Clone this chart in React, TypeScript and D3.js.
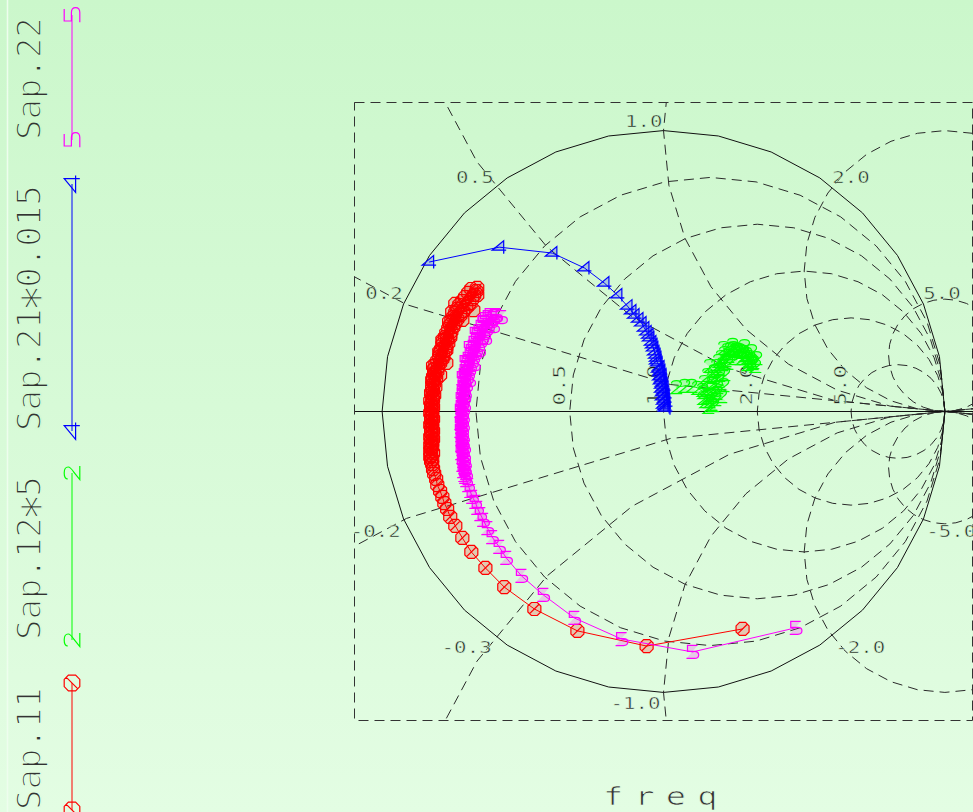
import React from "react";
import * as d3 from "d3";

const W = 973;
const H = 812;

type P = [number, number];

// S11 (red, slashed-zero markers) — reflection coefficient (re, im)
const s11: P[] = [
  [0.281,-0.774],[-0.060,-0.835],[-0.306,-0.781],[-0.459,-0.703],[-0.566,-0.625],[-0.633,-0.557],[-0.683,-0.500],
  [-0.715,-0.450],[-0.740,-0.407],[-0.758,-0.375],[-0.769,-0.347],[-0.779,-0.326],[-0.786,-0.304],[-0.794,-0.283],
  [-0.804,-0.262],[-0.808,-0.240],[-0.815,-0.222],[-0.819,-0.205],[-0.822,-0.187],
  [-0.826,-0.176],[-0.822,-0.169],[-0.829,-0.162],[-0.826,-0.155],[-0.819,-0.148],[-0.829,-0.141],[-0.826,-0.133],
  [-0.822,-0.126],[-0.829,-0.119],[-0.822,-0.112],[-0.826,-0.105],[-0.819,-0.098],[-0.829,-0.091],[-0.822,-0.084],
  [-0.826,-0.077],[-0.819,-0.069],[-0.826,-0.062],[-0.822,-0.055],[-0.829,-0.048],[-0.822,-0.041],[-0.826,-0.034],
  [-0.819,-0.027],[-0.826,-0.020],[-0.822,-0.012],[-0.829,-0.005],[-0.822,0.002],[-0.826,0.009],[-0.819,0.016],
  [-0.826,0.023],[-0.822,0.030],[-0.829,0.037],[-0.819,0.044],[-0.822,0.052],[-0.815,0.059],[-0.826,0.066],
  [-0.819,0.073],[-0.822,0.080],[-0.811,0.087],[-0.822,0.094],[-0.815,0.101],[-0.819,0.109],[-0.808,0.116],
  [-0.819,0.123],[-0.811,0.130],[-0.815,0.137],[-0.804,0.144],[-0.815,0.151],[-0.801,0.158],[-0.811,0.165],
  [-0.794,0.173],[-0.804,0.180],[-0.786,0.187],[-0.797,0.194],[-0.783,0.201],[-0.794,0.208],[-0.776,0.215],
  [-0.790,0.222],[-0.772,0.230],[-0.786,0.237],[-0.765,0.244],[-0.783,0.251],[-0.769,0.258],[-0.776,0.265],
  [-0.758,0.272],[-0.772,0.279],[-0.754,0.286],[-0.765,0.294],[-0.747,0.301],[-0.758,0.308],[-0.740,0.315],
  [-0.754,0.322],[-0.733,0.329],[-0.747,0.336],[-0.722,0.343],[-0.740,0.351],[-0.712,0.357],[-0.733,0.365],
  [-0.701,0.372],[-0.726,0.379],[-0.690,0.386],[-0.715,0.393],[-0.680,0.400],[-0.705,0.407],[-0.673,0.415],
  [-0.694,0.422],[-0.665,0.429],[-0.683,0.436],[-0.662,0.440],
  [-0.662,0.415],[-0.740,0.383],[-0.676,0.361],[-0.751,0.354],[-0.715,0.326],[-0.762,0.319],[-0.758,0.265],
  [-0.786,0.254],[-0.772,0.219],[-0.797,0.212],[-0.772,0.173],[-0.819,0.162],[-0.794,0.130],[-0.822,0.112],
];

// S12 * 5 (green, "2" markers)
const s12x5: P[] = [
  [0.046,0.087],[0.075,0.091],[0.100,0.091],[0.121,0.084],[0.142,0.069],[0.157,0.052],[0.149,0.037],[0.171,0.027],
  [0.160,0.016],[0.178,0.023],[0.164,0.037],[0.185,0.044],[0.167,0.059],[0.189,0.066],[0.171,0.080],[0.192,0.087],
  [0.174,0.101],[0.196,0.109],[0.178,0.123],[0.199,0.130],[0.181,0.144],[0.203,0.151],[0.189,0.162],[0.210,0.169],
  [0.196,0.180],[0.221,0.183],[0.206,0.194],[0.231,0.198],[0.217,0.208],[0.242,0.208],[0.228,0.219],[0.253,0.215],
  [0.238,0.222],[0.263,0.219],[0.249,0.226],[0.274,0.215],[0.260,0.222],[0.285,0.212],[0.270,0.219],[0.295,0.205],
  [0.281,0.212],[0.306,0.194],[0.288,0.201],[0.313,0.183],[0.295,0.190],[0.317,0.173],[0.302,0.180],[0.320,0.176],
  [0.331,0.190],[0.327,0.162],[0.313,0.215],[0.299,0.169],[0.288,0.233],[0.278,0.190],[0.246,0.237],[0.253,0.190],
  [0.214,0.226],[0.228,0.173],[0.164,0.162],[0.157,0.130],[0.217,0.133],[0.146,0.105],[0.214,0.094],[0.139,0.077],
  [0.206,0.055],[0.142,0.048],
];

// S21 * 0.015 (blue, "4" markers)
const s21x0015: P[] = [
  [-0.833,0.532],[-0.584,0.585],[-0.395,0.564],[-0.281,0.511],[-0.210,0.457],[-0.164,0.415],[-0.128,0.375],
  [-0.114,0.358],[-0.103,0.343],[-0.089,0.329],[-0.078,0.315],[-0.068,0.297],[-0.060,0.283],[-0.053,0.272],
  [-0.050,0.262],[-0.043,0.247],[-0.039,0.237],[-0.036,0.226],[-0.032,0.212],[-0.028,0.201],[-0.025,0.190],
  [-0.025,0.180],[-0.021,0.173],[-0.014,0.158],[-0.018,0.151],[-0.011,0.144],[-0.014,0.137],[-0.007,0.130],
  [-0.014,0.123],[-0.007,0.116],[-0.011,0.109],[-0.004,0.101],[-0.007,0.094],[0.000,0.087],[-0.007,0.080],
  [0.000,0.073],[-0.004,0.066],[0.004,0.059],[-0.004,0.052],[0.004,0.044],[0.000,0.037],[0.007,0.030],
  [0.000,0.023],[0.004,0.016],[0.007,0.012],
];

// S22 (magenta, "5" markers)
const s22: P[] = [
  [0.470,-0.770],[0.103,-0.856],[-0.149,-0.810],[-0.317,-0.735],[-0.427,-0.653],[-0.505,-0.585],[-0.559,-0.521],
  [-0.584,-0.482],[-0.609,-0.447],[-0.626,-0.415],[-0.641,-0.386],[-0.651,-0.365],[-0.662,-0.343],[-0.669,-0.322],
  [-0.680,-0.304],[-0.687,-0.283],[-0.694,-0.262],[-0.701,-0.244],
  [-0.705,-0.233],[-0.708,-0.226],[-0.701,-0.219],[-0.712,-0.212],[-0.705,-0.205],[-0.708,-0.198],[-0.715,-0.190],
  [-0.705,-0.183],[-0.712,-0.176],[-0.708,-0.169],[-0.715,-0.162],[-0.708,-0.155],[-0.719,-0.148],[-0.712,-0.141],
  [-0.715,-0.133],[-0.708,-0.126],[-0.719,-0.119],[-0.712,-0.112],[-0.715,-0.105],[-0.719,-0.098],[-0.712,-0.091],
  [-0.719,-0.084],[-0.715,-0.077],[-0.722,-0.069],[-0.715,-0.062],[-0.719,-0.055],[-0.712,-0.048],[-0.722,-0.041],
  [-0.715,-0.034],[-0.719,-0.027],[-0.712,-0.020],[-0.719,-0.012],[-0.715,-0.005],[-0.722,0.002],[-0.712,0.009],
  [-0.719,0.016],[-0.708,0.023],[-0.715,0.030],[-0.712,0.037],[-0.719,0.044],[-0.708,0.052],[-0.715,0.059],
  [-0.705,0.066],[-0.715,0.073],[-0.708,0.080],[-0.712,0.087],[-0.701,0.094],[-0.712,0.101],[-0.705,0.109],
  [-0.708,0.116],[-0.698,0.123],[-0.708,0.130],[-0.694,0.137],[-0.705,0.144],[-0.690,0.151],[-0.701,0.158],
  [-0.687,0.165],[-0.698,0.173],[-0.680,0.180],[-0.694,0.187],[-0.676,0.194],[-0.687,0.201],[-0.669,0.208],
  [-0.683,0.215],[-0.665,0.222],[-0.676,0.230],[-0.658,0.237],[-0.673,0.244],[-0.651,0.251],[-0.665,0.258],
  [-0.644,0.265],[-0.662,0.272],[-0.637,0.279],[-0.655,0.286],[-0.630,0.294],[-0.648,0.301],[-0.623,0.308],
  [-0.641,0.315],[-0.612,0.322],[-0.633,0.329],[-0.605,0.333],[-0.623,0.336],[-0.598,0.340],[-0.616,0.343],
  [-0.594,0.343],
  [-0.577,0.336],[-0.641,0.319],[-0.605,0.304],[-0.669,0.276],[-0.633,0.262],[-0.690,0.226],[-0.655,0.219],
  [-0.705,0.176],[-0.673,0.169],[-0.715,0.119],[-0.690,0.112],
];

const seriesNames = ["Sap.11", "Sap.12*5", "Sap.21*0.015", "Sap.22"];
const resistanceValues = [0.2, 0.5, 1, 2, 5];
const resistanceLabels = ["0.2", "0.5", "1.0", "2.0", "5.0"];
const reactanceValues = [0.2, 0.5, 1, 2, 5];
const reactanceLabelsPos = ["0.2", "0.5", "1.0", "2.0", "5.0"];
const reactanceLabelsNeg = ["-0.2", "-0.3", "-1.0", "-2.0", "-5.0"];
const axisTitle = "freq";

const markerPaths: Record<string, string> = {
  oslash: "M-3,-6.5L3,-6.5L6.5,-3L6.5,3L3,6.5L-3,6.5L-6.5,3L-6.5,-3Z M-4.7,4.7L4.7,-4.7",
  two: "M-5,-3.5C-5,-5.8 -3,-6.5 0,-6.5C3,-6.5 5,-5.6 5,-3.2C5,-1.2 3,0 0,2L-5.5,6.5L5.8,6.5",
  four: "M4.5,6.5L4.5,-6.5L-7,3L7,3",
  five: "M5,-6.5L-5,-6.5L-5,-0.5L2,-0.5C5,-0.5 6.2,1.2 6.2,3C6.2,5 4.6,6.5 2,6.5L-6,6.5",
};

const series = [
  { name: seriesNames[0], data: s11, color: "#ff0000", marker: "oslash", legend: [810, 683] },
  { name: seriesNames[1], data: s12x5, color: "#00ff00", marker: "two", legend: [640, 473] },
  { name: seriesNames[2], data: s21x0015, color: "#0000ff", marker: "four", legend: [431, 184] },
  { name: seriesNames[3], data: s22, color: "#ff00ff", marker: "five", legend: [140, 15] },
];

const bgTop = "#cbf7cb";
const bgBottom = "#e3fde3";
const bgAt = (py: number) => d3.interpolateRgb(bgTop, bgBottom)(py / H);

const FONT = "'DejaVu Sans Mono', monospace";
const INK = "#1e1e1e";
const LEG_SIZE = 34;
const LEG_ADV = LEG_SIZE * 0.602;

function LegendText({ name, y0, stroke }: { name: string; y0: number; stroke: string }) {
  const k = name.indexOf("*");
  const common = {
    transform: `translate(41,${y0}) rotate(-90)`,
    fontFamily: FONT,
    fontSize: LEG_SIZE,
    fill: "#333",
    stroke,
    strokeWidth: 1.6,
  };
  if (k < 0) return <text {...common}>{name}</text>;
  const starSize = 46;
  const shift = 14;
  return (
    <text {...common}>
      {name.slice(0, k)}
      <tspan x={k * LEG_ADV + (LEG_ADV - starSize * 0.602) / 2} dy={shift} fontSize={starSize} strokeWidth={1.2}>
        *
      </tspan>
      <tspan x={(k + 1) * LEG_ADV} dy={-shift} fontSize={LEG_SIZE}>
        {name.slice(k + 1)}
      </tspan>
    </text>
  );
}

export default function App() {
  const x = d3.scaleLinear().domain([-1.1, 1.1]).range([354, 973]);
  const y = d3.scaleLinear().domain([-1.1, 1.1]).range([720.5, 102.5]);
  const line = d3.line<P>().x((d) => x(d[0])).y((d) => y(d[1]));
  const poly = (cx: number, cy: number, r: number) =>
    line(d3.range(33).map((i) => {
      const a = (i * Math.PI * 2) / 32;
      return [cx + r * Math.cos(a), cy + r * Math.sin(a)] as P;
    })) + "Z";

  const gridDash = "10 6";
  const lblSize = 16;
  const lblScale = 1.3;
  const cw = lblSize * 0.602 * lblScale;

  const reactLabels: { text: string; sx: number; sy: number }[] = [];
  reactanceValues.forEach((v, i) => {
    const gr = (v * v - 1) / (v * v + 1);
    const gi = (2 * v) / (v * v + 1);
    const px = x(gr);
    const left = gr <= 0.001;
    const tp = reactanceLabelsPos[i];
    reactLabels.push({ text: tp, sx: left ? px - 1 - tp.length * cw : px, sy: y(gi) - 4 });
    const tn = reactanceLabelsNeg[i];
    reactLabels.push({ text: tn, sx: left ? px - 3 - tn.length * cw : px + 3, sy: y(-gi) + 17 });
  });

  return (
    <svg width={W} height={H} style={{ position: "absolute", left: 0, top: 0, display: "block" }}>
      <defs>
        <linearGradient id="bg" x1="0" y1="0" x2="0" y2="1">
          <stop offset="0" stopColor={bgTop} />
          <stop offset="1" stopColor={bgBottom} />
        </linearGradient>
        <clipPath id="plotClip">
          <rect x={x(-1.1)} y={y(1.1)} width={x(1.1) - x(-1.1)} height={y(-1.1) - y(1.1)} />
        </clipPath>
      </defs>
      <rect x={0} y={0} width={W} height={H} fill="url(#bg)" />
      <line x1={7.5} y1={0} x2={7.5} y2={H} stroke="#eefdee" strokeWidth={1.5} />

      {/* grid */}
      <g clipPath="url(#plotClip)" fill="none" stroke="#2a2a2a" strokeWidth={1} strokeDasharray={gridDash}>
        {resistanceValues.map((r) => (
          <path key={"r" + r} d={poly(r / (1 + r), 0, 1 / (1 + r))} />
        ))}
        {reactanceValues.map((v) => (
          <path key={"xp" + v} d={poly(1, 1 / v, 1 / v)} />
        ))}
        {reactanceValues.map((v) => (
          <path key={"xn" + v} d={poly(1, -1 / v, 1 / v)} />
        ))}
      </g>
      <line x1={x(-1.1)} x2={x(1.1)} y1={y(0)} y2={y(0)} stroke="#111" strokeWidth={1} />
      <path d={poly(0, 0, 1)} fill="none" stroke="#111" strokeWidth={1} />
      <rect
        x={x(-1.1) + 0.5}
        y={y(1.1)}
        width={x(1.1) - x(-1.1) - 1}
        height={y(-1.1) - y(1.1)}
        fill="none"
        stroke="#333"
        strokeWidth={1}
        strokeDasharray={gridDash}
      />

      {/* reactance labels */}
      {reactLabels.map((l, i) => (
        <text
          key={"rl" + i}
          transform={`translate(${l.sx},${l.sy}) scale(${lblScale},1)`}
          fontFamily={FONT}
          fontSize={lblSize}
          fill={INK}
          stroke={bgAt(l.sy)}
          strokeWidth={0.5}
        >
          {l.text}
        </text>
      ))}
      {/* resistance labels (rotated) */}
      {resistanceValues.map((r, i) => {
        const gl = (r - 1) / (r + 1);
        return (
          <text
            key={"res" + i}
            transform={`translate(${x(gl) - 5},${y(0) - 6}) rotate(-90) scale(1.4,1)`}
            fontFamily={FONT}
            fontSize={lblSize}
            fill={INK}
            stroke={bgAt(390)}
            strokeWidth={0.5}
          >
            {resistanceLabels[i]}
          </text>
        );
      })}

      {/* axis title */}
      <text
        transform="translate(603,805) scale(1.4,1)"
        fontFamily={FONT}
        fontSize={24}
        letterSpacing={8}
        fill="#333"
        stroke={bgAt(800)}
        strokeWidth={0.7}
      >
        {axisTitle}
      </text>

      {/* data */}
      {series.map((s) => (
        <g key={s.name}>
          <path d={line(s.data) || ""} fill="none" stroke={s.color} strokeWidth={1} />
          {s.data.map((d, i) => (
            <path
              key={i}
              d={markerPaths[s.marker]}
              transform={`translate(${x(d[0])},${y(d[1])})`}
              fill={s.color}
              fillOpacity={0.2}
              stroke={s.color}
              strokeWidth={1.2}
            />
          ))}
        </g>
      ))}

      {/* legend */}
      {series.map((s) => {
        const [y0, y1] = s.legend;
        return (
          <g key={"lg" + s.name}>
            <LegendText name={s.name} y0={y0} stroke={bgAt((y0 + y1) / 2)} />
            <line x1={72} x2={72} y1={y0} y2={y1} stroke={s.color} strokeWidth={1} />
            {[y0, y1].map((yy, k) => (
              <path
                key={k}
                d={markerPaths[s.marker]}
                transform={`translate(72,${yy}) rotate(-90) scale(1.2)`}
                fill="none"
                stroke={s.color}
                strokeWidth={1}
              />
            ))}
          </g>
        );
      })}
    </svg>
  );
}
